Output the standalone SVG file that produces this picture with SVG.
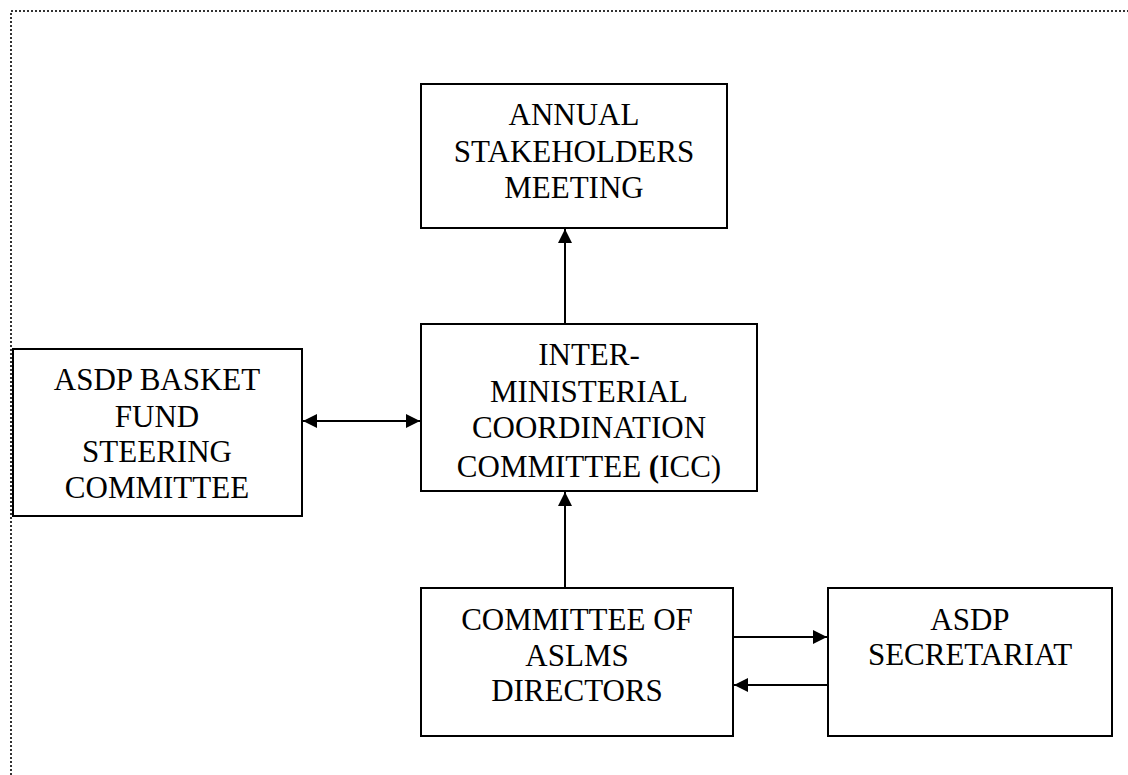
<svg xmlns="http://www.w3.org/2000/svg" width="1128" height="775" viewBox="0 0 1128 775">
<style>
.box{fill:#fff;stroke:#000;stroke-width:2}
.t{font-family:"Liberation Serif","Times New Roman",serif;font-size:31px;fill:#000;text-anchor:middle}
.c{stroke:#000;stroke-width:2;fill:none}
.frame{stroke:#333;stroke-width:2;stroke-dasharray:2 2;fill:none}
</style>
<defs>
<marker id="ah" markerUnits="userSpaceOnUse" markerWidth="14" markerHeight="14" viewBox="0 0 14 14" refX="14" refY="7" orient="auto-start-reverse">
<path d="M0,0 L14,7 L0,14 Z" fill="#000"/>
</marker>
</defs>
<rect width="1128" height="775" fill="#fff"/>
<path class="frame" d="M11,775 V11 H1128"/>
<g id="annual">
<rect class="box" x="421" y="84" width="306" height="144"/>
<text class="t" x="574" y="125">ANNUAL</text>
<text class="t" x="574" y="162">STAKEHOLDERS</text>
<text class="t" x="574" y="198">MEETING</text>
</g>
<g id="icc">
<rect class="box" x="421" y="324" width="336" height="167"/>
<text class="t" x="589" y="365">INTER-</text>
<text class="t" x="589" y="402">MINISTERIAL</text>
<text class="t" x="589" y="438">COORDINATION</text>
<text class="t" x="589" y="477">COMMITTEE <tspan font-weight="bold">(</tspan>ICC)</text>
</g>
<g id="basket">
<rect class="box" x="13" y="349" width="289" height="167"/>
<text class="t" x="157" y="390">ASDP BASKET</text>
<text class="t" x="157" y="427">FUND</text>
<text class="t" x="157" y="462">STEERING</text>
<text class="t" x="157" y="498">COMMITTEE</text>
</g>
<g id="committee">
<rect class="box" x="421" y="588" width="312" height="148"/>
<text class="t" x="577" y="630">COMMITTEE OF</text>
<text class="t" x="577" y="666">ASLMS</text>
<text class="t" x="577" y="701">DIRECTORS</text>
</g>
<g id="secretariat">
<rect class="box" x="828" y="588" width="284" height="148"/>
<text class="t" x="970" y="630">ASDP</text>
<text class="t" x="970" y="665">SECRETARIAT</text>
</g>
<g id="connectors">
<line class="c" x1="565" y1="324" x2="565" y2="229" marker-end="url(#ah)"/>
<line class="c" x1="565" y1="588" x2="565" y2="492" marker-end="url(#ah)"/>
<line class="c" x1="303" y1="421" x2="420" y2="421" marker-start="url(#ah)" marker-end="url(#ah)"/>
<line class="c" x1="734" y1="637" x2="827" y2="637" marker-end="url(#ah)"/>
<line class="c" x1="827" y1="685" x2="734" y2="685" marker-end="url(#ah)"/>
</g>
</svg>
